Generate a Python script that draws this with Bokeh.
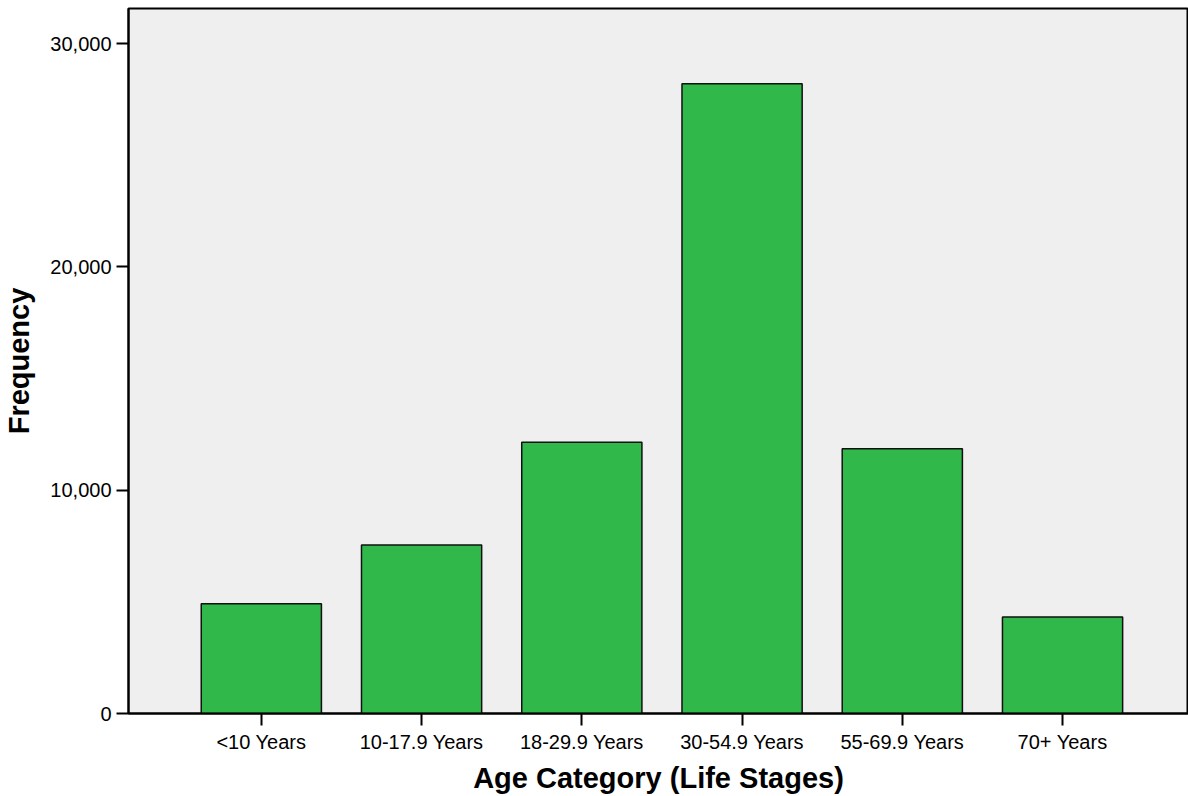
from bokeh.plotting import figure
from bokeh.models import Range1d, NumeralTickFormatter, FixedTicker, ColumnDataSource
from bokeh.embed import file_html
from bokeh.resources import INLINE

categories = ["<10 Years", "10-17.9 Years", "18-29.9 Years", "30-54.9 Years", "55-69.9 Years", "70+ Years"]
frequency = [4910, 7550, 12150, 28195, 11850, 4326]
y_ticks = [0, 10000, 20000, 30000]

xpos = [i + 0.5 for i in range(len(categories))]
src = ColumnDataSource(dict(x=xpos, cat=categories, freq=frequency))

p = figure(width=1188, height=796, output_backend="svg", toolbar_location=None,
           x_range=Range1d(-0.329, 6.286),
           y_range=Range1d(0, 31570),
           min_border_left=127, min_border_top=8, min_border_right=0, min_border_bottom=83)

p.vbar(x="x", top="freq", width=0.75, source=src, fill_color="#30B84A",
       line_color="#111111", line_width=1.5)

p.background_fill_color = "#EFEFEF"
p.border_fill_color = "white"
p.outline_line_color = "black"
p.outline_line_width = 2
p.grid.visible = False

font = "Liberation Sans"
p.xaxis.axis_label = "Age Category (Life Stages)"
p.yaxis.axis_label = "Frequency"
for ax in (p.xaxis[0], p.yaxis[0]):
    ax.axis_label_text_font = font
    ax.axis_label_text_font_style = "bold"
    ax.axis_label_text_font_size = "29px"
    ax.axis_label_text_color = "black"
    ax.major_label_text_font = font
    ax.major_label_text_font_size = "20px"
    ax.major_label_text_color = "black"
    ax.axis_line_color = "black"
    ax.axis_line_width = 2
    ax.major_tick_line_color = "black"
    ax.major_tick_line_width = 2
    ax.major_tick_out = 12
    ax.major_tick_in = 0
    ax.minor_tick_line_color = None

p.xaxis.ticker = FixedTicker(ticks=xpos)
p.xaxis.major_label_overrides = {x: c for x, c in zip(xpos, categories)}
p.yaxis.ticker = FixedTicker(ticks=y_ticks)
p.yaxis.formatter = NumeralTickFormatter(format="0,0")
p.yaxis.major_label_standoff = 5
p.xaxis.major_label_standoff = 5
p.yaxis.axis_label_standoff = 12
p.xaxis.axis_label_standoff = 6

open("out.html", "w").write(file_html(p, INLINE))
